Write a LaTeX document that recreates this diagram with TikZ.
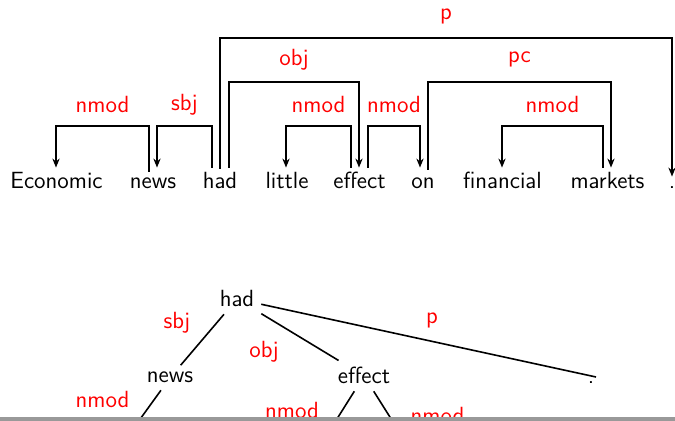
\documentclass[tikz,border=0pt]{standalone}
\usetikzlibrary{arrows.meta,calc}
\definecolor{bargray}{RGB}{153,153,153}
\begin{document}
\begin{tikzpicture}[x=0.5pt,y=-0.5pt,
  font=\sffamily\fontsize{11.7}{14}\selectfont,
  word/.style={anchor=base, inner sep=0pt, text height=10.5pt, text depth=2.5pt},
  lbl/.style={text=red, inner sep=0pt},
  arclbl/.style={lbl, yshift=10.8pt},
  dep/.style={line width=0.8pt, -{Stealth[length=4.5pt,width=3.6pt]}},
  tnode/.style={inner sep=3.33pt},
  tedge/.style={line width=0.8pt}]
\useasboundingbox (0,0) rectangle (675,421);

\begin{scope}
\clip (0,0) rectangle (675,417);

% ---- dependency arcs above the sentence ----
\node[word] (w1) at (56.5,189) {Economic};
\node[word] (w2) at (153,189) {news};
\node[word] (w3) at (220,189) {had};
\node[word] (w4) at (287,189) {little};
\node[word] (w5) at (359.5,189) {effect};
\node[word] (w6) at (423,189) {on};
\node[word] (w7) at (502.5,189) {financial};
\node[word] (w8) at (607.5,189) {markets};
\node[word] (w9) at (672,189) {.};

% attachment points of the arcs on the words
\coordinate (a1s) at ($(w2.north)+(-4,4)$);
\coordinate (a1t) at ($(w1.north)+(-0.5,0)$);
\coordinate (a2s) at ($(w3.north)+(-8,0)$);
\coordinate (a2t) at ($(w2.north)+(4,0)$);
\coordinate (a3s) at ($(w3.north)+(0,1)$);
\coordinate (a3t) at ($(w9.north)+(0,9)$);
\coordinate (a4s) at ($(w3.north)+(9,0)$);
\coordinate (a4t) at ($(w5.north)+(-0.5,0)$);
\coordinate (a5s) at ($(w5.north)+(-8.5,0)$);
\coordinate (a5t) at ($(w4.north)+(-1,0)$);
\coordinate (a6s) at ($(w5.north)+(8.5,0)$);
\coordinate (a6t) at ($(w6.north)+(-3,0)$);
\coordinate (a7s) at ($(w6.north)+(5,2)$);
\coordinate (a7t) at ($(w8.north)+(3.5,0)$);
\coordinate (a8s) at ($(w8.north)+(-4.5,0)$);
\coordinate (a8t) at ($(w7.north)+(-0.5,0)$);

\draw[dep] (a1s) -- (a1s |- 0,126) -- node[arclbl] (l1) {nmod} (a1t |- 0,126) -- (a1t);
\draw[dep] (a2s) -- (a2s |- 0,126) -- node[arclbl] (l2) {sbj} (a2t |- 0,126) -- (a2t);
\draw[dep] (a3s) -- (a3s |- 0,38) -- node[arclbl] (l3) {p} (a3t |- 0,38) -- (a3t);
\draw[dep] (a4s) -- (a4s |- 0,82) -- node[arclbl, yshift=0.5pt] (l4) {obj} (a4t |- 0,82) -- (a4t);
\draw[dep] (a5s) -- (a5s |- 0,126) -- node[arclbl] (l5) {nmod} (a5t |- 0,126) -- (a5t);
\draw[dep] (a6s) -- (a6s |- 0,126) -- node[arclbl] (l6) {nmod} (a6t |- 0,126) -- (a6t);
\draw[dep] (a7s) -- (a7s |- 0,82) -- node[arclbl, yshift=0.5pt] (l7) {pc} (a7t |- 0,82) -- (a7t);
\draw[dep] (a8s) -- (a8s |- 0,126) -- node[arclbl] (l8) {nmod} (a8t |- 0,126) -- (a8t);

% ---- the same analysis as a tree ----
\node[tnode, anchor=base] (had) at (237,307) {had};
\node[tnode, anchor=base] (news) at (170,383) {news};
\node[tnode, anchor=base] (effect) at (364,384) {effect};
\node[tnode, anchor=base] (dot) at (591,384) {.};

% children lying below the visible part
\coordinate (econ) at (125,440);
\coordinate (little) at (330,430);
\coordinate (on) at (400,433);
\coordinate (dotend) at (596,377);

\draw[tedge] (had) -- (news);
\draw[tedge] (had) -- (effect);
\draw[tedge] (had) -- (dotend);
\draw[tedge] (news) -- (econ);
\draw[tedge] (effect) -- (little);
\draw[tedge] (effect) -- (on);

\node[lbl] (t1) at (177,323) {sbj};
\node[lbl] (t2) at (264,352) {obj};
\node[lbl] (t3) at (432,320) {p};
\node[lbl] (t4) at (102.5,400) {nmod};
\node[lbl] (t5) at (292,411) {nmod};
\node[lbl] (t6) at (437.5,416) {nmod};
\end{scope}

% frame edge along the bottom
\fill[bargray] (0,417) rectangle (675,421);
\end{tikzpicture}
\end{document}
